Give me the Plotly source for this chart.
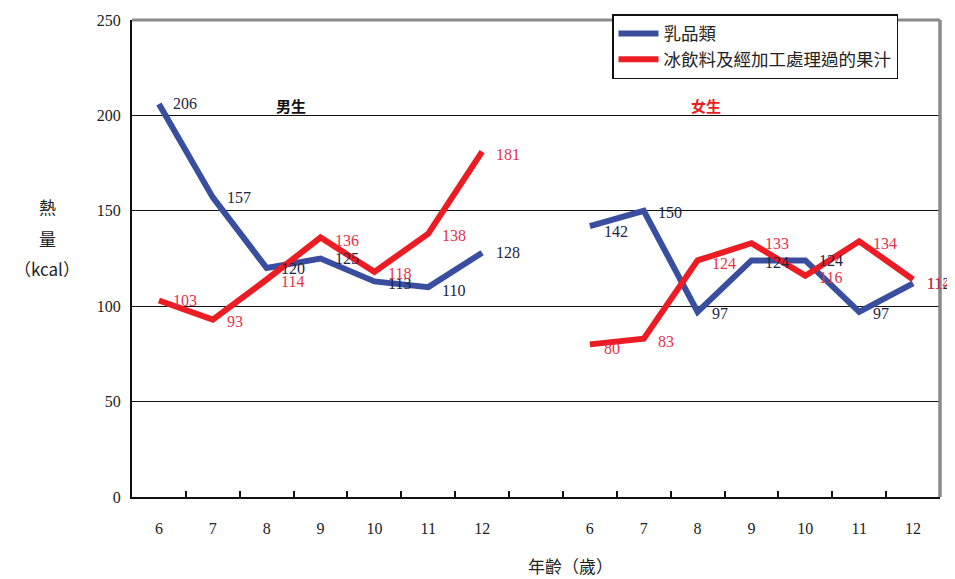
import plotly.graph_objects as go

ages = ["6", "7", "8", "9", "10", "11", "12"]
groups = ["男生", "女生"]
dairy_male = [206, 157, 120, 125, 113, 110, 128]
dairy_female = [142, 150, 97, 124, 124, 97, 112]
juice_male = [103, 93, 114, 136, 118, 138, 181]
juice_female = [80, 83, 124, 133, 116, 134, 114]
series_names = ["乳品類", "冰飲料及經加工處理過的果汁"]
y_ticks = [0, 50, 100, 150, 200, 250]
y_title_lines = ["熱", "量", "（kcal）"]
x_title = "年齡（歲）"

BLUE = "#3a4ea0"
RED = "#ec1c24"
LBL_BLUE = "#1e2440"
LBL_RED = "#e8304a"
NUM_FONT = "Liberation Serif"
CJK_FONT = "Noto Sans CJK TC"

# page has an 8px body margin, so the figure is sized to fit the window
W, H = 947, 571
L, R, T, B = 124, 15, 12, 82
PW, PH = W - L - R, H - T - B

# positions: male 0..6, gap at 7, female 8..14
x_male = list(range(len(ages)))
x_female = [i + len(ages) + 1 for i in range(len(ages))]

fig = go.Figure()

for name, color, ym, yf in [
    (series_names[0], BLUE, dairy_male, dairy_female),
    (series_names[1], RED, juice_male, juice_female),
]:
    fig.add_trace(go.Scatter(
        x=x_male + [None] + x_female,
        y=ym + [None] + yf,
        mode="lines",
        name=name,
        line=dict(color=color, width=6),
        connectgaps=False,
    ))

annotations = []
for xs, ys, col, dy in [
    (x_male, dairy_male, LBL_BLUE, [0, 0, 0, 0, -2, -3, 0]),
    (x_female, dairy_female, LBL_BLUE, [-5, -2, -2, -2, 0, -2, 0]),
    (x_male, juice_male, LBL_RED, [0, -2, -2, -3, -2, -2, -3]),
    (x_female, juice_female, LBL_RED, [-4, -3, -3, 0, -2, -2, -4]),
]:
    for x, y, d in zip(xs, ys, dy):
        annotations.append(dict(
            x=x, y=y, xref="x", yref="y", text=str(y), showarrow=False,
            xanchor="left", yanchor="middle", xshift=12, yshift=d,
            font=dict(family=NUM_FONT, size=16, color=col),
        ))

# group titles
annotations.append(dict(x=2.45, y=205, xref="x", yref="y", text="<b>" + groups[0] + "</b>",
                        showarrow=False, font=dict(family=CJK_FONT, size=15, color="#111111")))
annotations.append(dict(x=10.15, y=205, xref="x", yref="y", text="<b>" + groups[1] + "</b>",
                        showarrow=False, font=dict(family=CJK_FONT, size=15, color=RED)))

# y-axis title: three stacked lines (page pixel centres 207, 238, 268)
for txt, py in zip(y_title_lines, [207, 238, 268]):
    fy = py - 8
    annotations.append(dict(
        x=(47 - 8 - L) / PW, y=(T + PH - fy) / PH, xref="paper", yref="paper",
        text=txt, showarrow=False, xanchor="center", yanchor="middle",
        font=dict(family=CJK_FONT, size=17, color="#222222"),
    ))
# x-axis title (page pixel centre 570, ~565)
annotations.append(dict(
    x=(570 - 8 - L) / PW, y=(T + PH - (565 - 8)) / PH, xref="paper", yref="paper",
    text=x_title, showarrow=False, xanchor="center", yanchor="middle",
    font=dict(family=CJK_FONT, size=17, color="#222222"),
))

fig.update_layout(
    width=W, height=H,
    margin=dict(l=L, r=R, t=T, b=B, autoexpand=False),
    paper_bgcolor="white", plot_bgcolor="white",
    showlegend=True,
    legend=dict(
        x=(612 - 8 - L) / PW, y=1 + 6 / PH, xanchor="left", yanchor="top",
        bgcolor="white", bordercolor="#111111", borderwidth=1.5,
        font=dict(family=CJK_FONT, size=17.5, color="#222222"),
        tracegroupgap=0, itemwidth=40,
    ),
    annotations=annotations,
    xaxis=dict(
        range=[-0.5, 14.5],
        tickmode="array",
        tickvals=x_male + x_female,
        ticktext=ages + ages,
        ticks="",
        showgrid=False, zeroline=False,
        showline=True, linecolor="#111111", linewidth=2,
        tickfont=dict(family=NUM_FONT, size=16, color="#222222"),
        ticklabelstandoff=16,
        minor=dict(
            tickmode="array",
            tickvals=[i + 0.5 for i in range(14)],
            ticks="inside", ticklen=6, tickcolor="#111111", tickwidth=1.5,
            showgrid=False,
        ),
    ),
    yaxis=dict(
        range=[0, 250],
        tickmode="array",
        tickvals=y_ticks,
        ticks="",
        showgrid=True, gridcolor="#111111", gridwidth=1.2,
        zeroline=False,
        showline=True, linecolor="#111111", linewidth=2,
        tickfont=dict(family=NUM_FONT, size=16, color="#222222"),
        ticklabelstandoff=6,
    ),
    shapes=[
        dict(type="line", xref="paper", yref="paper", x0=0, x1=1, y0=1, y1=1,
             line=dict(color="#8a8a8a", width=3)),
        dict(type="line", xref="paper", yref="paper", x0=1, x1=1, y0=0, y1=1,
             line=dict(color="#8a8a8a", width=3.5)),
    ],
)

fig.write_html("out.html")
